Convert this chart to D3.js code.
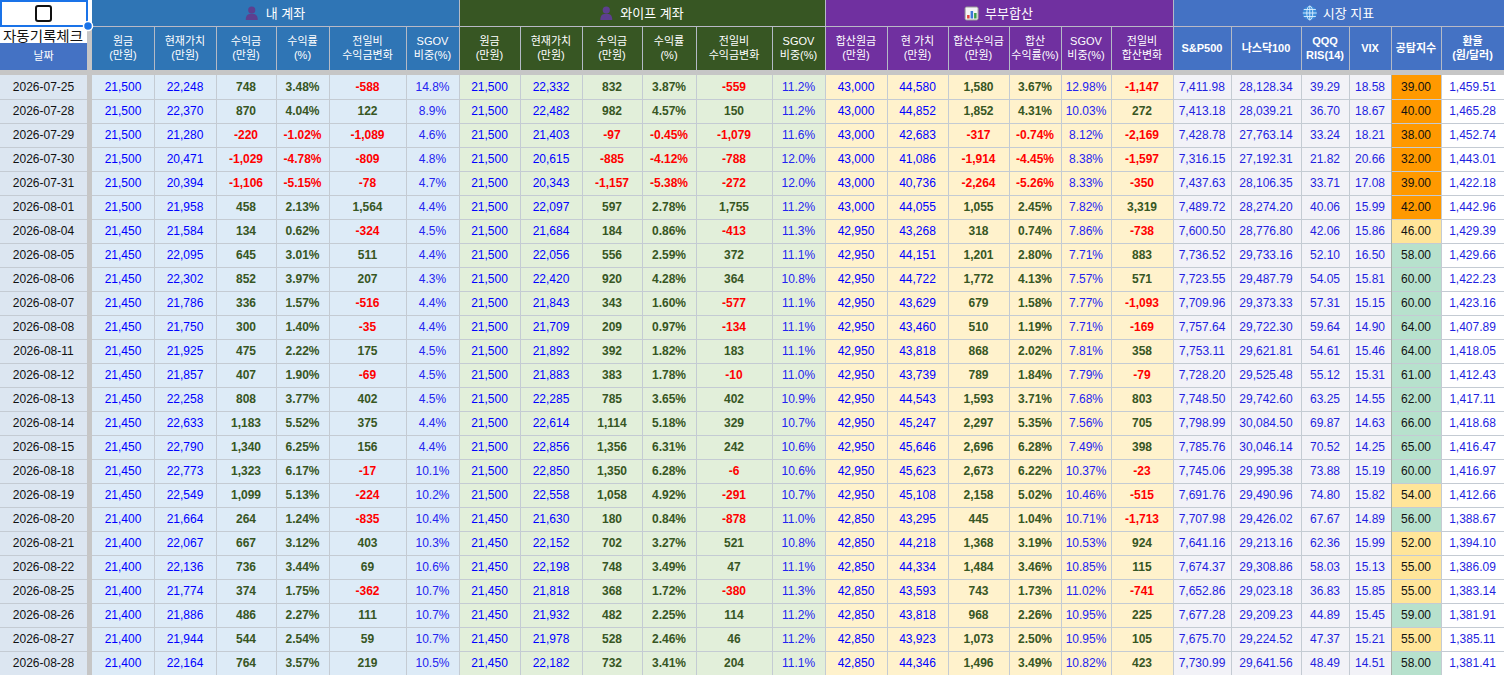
<!DOCTYPE html>
<html lang="ko">
<head>
<meta charset="utf-8">
<title>계좌 기록</title>
<script src="https://cdn.jsdelivr.net/npm/d3@7"></script>
<style>
  body { margin: 0; background: #fff; }
  svg { display: block; font-family: "Liberation Sans", Arial, "Noto Sans CJK KR", sans-serif; }
</style>
</head>
<body>
<svg id="sheet" width="1504" height="675"></svg>
<script>
// ---- data ----
const dates = ['2026-07-25','2026-07-28','2026-07-29','2026-07-30','2026-07-31','2026-08-01','2026-08-04',
  '2026-08-05','2026-08-06','2026-08-07','2026-08-08','2026-08-11','2026-08-12','2026-08-13','2026-08-14',
  '2026-08-15','2026-08-18','2026-08-19','2026-08-20','2026-08-21','2026-08-22','2026-08-25','2026-08-26',
  '2026-08-27','2026-08-28'];

// 내 계좌
const myPrincipal = [21500,21500,21500,21500,21500,21500,21450,21450,21450,21450,21450,21450,21450,21450,21450,21450,21450,21450,21400,21400,21400,21400,21400,21400,21400];
const myValue = [22248,22370,21280,20471,20394,21958,21584,22095,22302,21786,21750,21925,21857,22258,22633,22790,22773,22549,21664,22067,22136,21774,21886,21944,22164];
const myProfit = [748,870,-220,-1029,-1106,458,134,645,852,336,300,475,407,808,1183,1340,1323,1099,264,667,736,374,486,544,764];
const myRate = [3.48,4.04,-1.02,-4.78,-5.15,2.13,0.62,3.01,3.97,1.57,1.40,2.22,1.90,3.77,5.52,6.25,6.17,5.13,1.24,3.12,3.44,1.75,2.27,2.54,3.57];
const myChange = [-588,122,-1089,-809,-78,1564,-324,511,207,-516,-35,175,-69,402,375,156,-17,-224,-835,403,69,-362,111,59,219];
const mySgov = [14.8,8.9,4.6,4.8,4.7,4.4,4.5,4.4,4.3,4.4,4.4,4.5,4.5,4.5,4.4,4.4,10.1,10.2,10.4,10.3,10.6,10.7,10.7,10.7,10.5];

// 와이프 계좌
const wifePrincipal = [21500,21500,21500,21500,21500,21500,21500,21500,21500,21500,21500,21500,21500,21500,21500,21500,21500,21500,21450,21450,21450,21450,21450,21450,21450];
const wifeValue = [22332,22482,21403,20615,20343,22097,21684,22056,22420,21843,21709,21892,21883,22285,22614,22856,22850,22558,21630,22152,22198,21818,21932,21978,22182];
const wifeProfit = [832,982,-97,-885,-1157,597,184,556,920,343,209,392,383,785,1114,1356,1350,1058,180,702,748,368,482,528,732];
const wifeRate = [3.87,4.57,-0.45,-4.12,-5.38,2.78,0.86,2.59,4.28,1.60,0.97,1.82,1.78,3.65,5.18,6.31,6.28,4.92,0.84,3.27,3.49,1.72,2.25,2.46,3.41];
const wifeChange = [-559,150,-1079,-788,-272,1755,-413,372,364,-577,-134,183,-10,402,329,242,-6,-291,-878,521,47,-380,114,46,204];
const wifeSgov = [11.2,11.2,11.6,12.0,12.0,11.2,11.3,11.1,10.8,11.1,11.1,11.1,11.0,10.9,10.7,10.6,10.6,10.7,11.0,10.8,11.1,11.3,11.2,11.2,11.1];

// 부부합산
const sumPrincipal = [43000,43000,43000,43000,43000,43000,42950,42950,42950,42950,42950,42950,42950,42950,42950,42950,42950,42950,42850,42850,42850,42850,42850,42850,42850];
const sumValue = [44580,44852,42683,41086,40736,44055,43268,44151,44722,43629,43460,43818,43739,44543,45247,45646,45623,45108,43295,44218,44334,43593,43818,43923,44346];
const sumProfit = [1580,1852,-317,-1914,-2264,1055,318,1201,1772,679,510,868,789,1593,2297,2696,2673,2158,445,1368,1484,743,968,1073,1496];
const sumRate = [3.67,4.31,-0.74,-4.45,-5.26,2.45,0.74,2.80,4.13,1.58,1.19,2.02,1.84,3.71,5.35,6.28,6.22,5.02,1.04,3.19,3.46,1.73,2.26,2.50,3.49];
const sumSgov = [12.98,10.03,8.12,8.38,8.33,7.82,7.86,7.71,7.57,7.77,7.71,7.81,7.79,7.68,7.56,7.49,10.37,10.46,10.71,10.53,10.85,11.02,10.95,10.95,10.82];
const sumChange = [-1147,272,-2169,-1597,-350,3319,-738,883,571,-1093,-169,358,-79,803,705,398,-23,-515,-1713,924,115,-741,225,105,423];

// 시장 지표
const sp500 = [7411.98,7413.18,7428.78,7316.15,7437.63,7489.72,7600.50,7736.52,7723.55,7709.96,7757.64,7753.11,7728.20,7748.50,7798.99,7785.76,7745.06,7691.76,7707.98,7641.16,7674.37,7652.86,7677.28,7675.70,7730.99];
const nasdaq100 = [28128.34,28039.21,27763.14,27192.31,28106.35,28274.20,28776.80,29733.16,29487.79,29373.33,29722.30,29621.81,29525.48,29742.60,30084.50,30046.14,29995.38,29490.96,29426.02,29213.16,29308.86,29023.18,29209.23,29224.52,29641.56];
const qqqRsi = [39.29,36.70,33.24,21.82,33.71,40.06,42.06,52.10,54.05,57.31,59.64,54.61,55.12,63.25,69.87,70.52,73.88,74.80,67.67,62.36,58.03,36.83,44.89,47.37,48.49];
const vix = [18.58,18.67,18.21,20.66,17.08,15.99,15.86,16.50,15.81,15.15,14.90,15.46,15.31,14.55,14.63,14.25,15.19,15.82,14.89,15.99,15.13,15.85,15.45,15.21,14.51];
const fearGreed = [39,40,38,32,39,42,46,58,60,60,64,64,61,62,66,65,60,54,56,52,55,55,59,55,58];
const fxRate = [1459.51,1465.28,1452.74,1443.01,1422.18,1442.96,1429.39,1429.66,1422.23,1423.16,1407.89,1418.05,1412.43,1417.11,1418.68,1416.47,1416.97,1412.66,1388.67,1394.10,1386.09,1383.14,1381.91,1385.11,1381.41];

// ---- layout ----
const W = 1504, H = 675;
const DATE_W = 87, GAP_W = 5;
const GROUP_H = 26, SUB_H = 44, STRIP_H = 5;
const BODY_TOP = GROUP_H + SUB_H + STRIP_H;

const GROUPS = {
  my:     { title: '내 계좌',   head: '#2f75b5', body: '#ddebf7', icon: 'person' },
  wife:   { title: '와이프 계좌', head: '#375623', body: '#e2efda', icon: 'person' },
  sum:    { title: '부부합산',   head: '#7030a0', body: '#fff2cc', icon: 'chart' },
  market: { title: '시장 지표',  head: '#4472c4', body: '#f2f2f7', icon: 'globe' }
};

const COLS = [
  { g: 'my', label: ['원금','(만원)'], w: 62, v: myPrincipal, kind: 'amt' },
  { g: 'my', label: ['현재가치','(만원)'], w: 62, v: myValue, kind: 'amt' },
  { g: 'my', label: ['수익금','(만원)'], w: 60, v: myProfit, kind: 'pl' },
  { g: 'my', label: ['수익률','(%)'], w: 53, v: myRate, kind: 'rate' },
  { g: 'my', label: ['전일비','수익금변화'], w: 77, v: myChange, kind: 'pl' },
  { g: 'my', label: ['SGOV','비중(%)'], w: 53, v: mySgov, kind: 'sgov1' },
  { g: 'wife', label: ['원금','(만원)'], w: 61, v: wifePrincipal, kind: 'amt' },
  { g: 'wife', label: ['현재가치','(만원)'], w: 62, v: wifeValue, kind: 'amt' },
  { g: 'wife', label: ['수익금','(만원)'], w: 60, v: wifeProfit, kind: 'pl' },
  { g: 'wife', label: ['수익률','(%)'], w: 54, v: wifeRate, kind: 'rate' },
  { g: 'wife', label: ['전일비','수익금변화'], w: 76, v: wifeChange, kind: 'pl' },
  { g: 'wife', label: ['SGOV','비중(%)'], w: 53, v: wifeSgov, kind: 'sgov1' },
  { g: 'sum', label: ['합산원금','(만원)'], w: 62, v: sumPrincipal, kind: 'amt' },
  { g: 'sum', label: ['현 가치','(만원)'], w: 61, v: sumValue, kind: 'amt' },
  { g: 'sum', label: ['합산수익금','(만원)'], w: 61, v: sumProfit, kind: 'pl' },
  { g: 'sum', label: ['합산','수익률(%)'], w: 52, v: sumRate, kind: 'rate' },
  { g: 'sum', label: ['SGOV','비중(%)'], w: 50, v: sumSgov, kind: 'sgov2' },
  { g: 'sum', label: ['전일비','합산변화'], w: 62, v: sumChange, kind: 'pl' },
  { g: 'market', label: ['S&P500'], w: 58, v: sp500, kind: 'idx' },
  { g: 'market', label: ['나스닥100'], w: 70, v: nasdaq100, kind: 'idx' },
  { g: 'market', label: ['QQQ','RIS(14)'], w: 48, v: qqqRsi, kind: 'idx' },
  { g: 'market', label: ['VIX'], w: 42, v: vix, kind: 'idx' },
  { g: 'market', label: ['공탐지수'], w: 50, v: fearGreed, kind: 'fear' },
  { g: 'market', label: ['환율','(원/달러)'], w: 63, v: fxRate, kind: 'fx' }
];

const X0 = DATE_W + GAP_W;
const edges = [X0, ...d3.cumsum(COLS, c => c.w).map(s => X0 + s)];
const colIdx = d3.range(COLS.length);
const xLeft = d3.scaleOrdinal().domain(colIdx).range(edges.slice(0, -1));
const y = d3.scaleBand().domain(dates).range([BODY_TOP, H]);

const loc = d3.formatLocale({ decimal: '.', thousands: ',', grouping: [3], currency: ['', ''], minus: '-' });
const fmtInt = loc.format(',d');
const fmt2 = loc.format(',.2f');
const fmt1 = loc.format('.1f');

const fearFill = v => v < 45 ? '#ff9900' : v <= 55 ? '#ffe599' : '#b7e1cd';

function cellStyle(kind, v) {
  switch (kind) {
    case 'amt':   return { text: fmtInt(v), color: '#0000ff', weight: 400 };
    case 'pl':    return { text: fmtInt(v), color: v < 0 ? '#ff0000' : '#375623', weight: 700 };
    case 'rate':  return { text: fmt2(v) + '%', color: v < 0 ? '#ff0000' : '#375623', weight: 700 };
    case 'sgov1': return { text: fmt1(v) + '%', color: '#2323f0', weight: 400 };
    case 'sgov2': return { text: fmt2(v) + '%', color: '#2323f0', weight: 400 };
    case 'idx':   return { text: fmt2(v), color: '#1f1fe0', weight: 400 };
    case 'fear':  return { text: fmt2(v), color: '#111', weight: 400 };
    case 'fx':    return { text: fmt2(v), color: '#1f1fe0', weight: 400 };
  }
}

const svg = d3.select('#sheet');
svg.append('rect').attr('width', W).attr('height', H).attr('fill', '#fff');

// ---- body cells ----
const body = svg.append('g').attr('id', 'body');

body.selectAll('rect.date')
  .data(dates)
  .join('rect')
  .attr('class', 'date')
  .attr('x', 0).attr('y', d => y(d))
  .attr('width', DATE_W).attr('height', y.bandwidth())
  .attr('fill', '#dce6f1');

body.selectAll('text.date')
  .data(dates)
  .join('text')
  .attr('class', 'date')
  .attr('x', DATE_W / 2).attr('y', d => y(d) + y.bandwidth() / 2)
  .attr('dy', '0.36em')
  .attr('text-anchor', 'middle')
  .attr('font-size', 12)
  .attr('fill', '#111')
  .text(d => d);

COLS.forEach((col, ci) => {
  const cells = dates.map((d, i) => ({ date: d, v: col.v[i] }));
  const gCol = body.append('g');
  gCol.selectAll('rect')
    .data(cells)
    .join('rect')
    .attr('x', xLeft(ci)).attr('y', d => y(d.date))
    .attr('width', col.w).attr('height', y.bandwidth())
    .attr('fill', d => col.kind === 'fear' ? fearFill(d.v) : col.kind === 'fx' ? '#ffffff' : GROUPS[col.g].body);
  gCol.selectAll('text')
    .data(cells)
    .join('text')
    .each(function (d) {
      const s = cellStyle(col.kind, d.v);
      d3.select(this)
        .attr('x', xLeft(ci) + col.w / 2)
        .attr('y', y(d.date) + y.bandwidth() / 2)
        .attr('dy', '0.36em')
        .attr('text-anchor', 'middle')
        .attr('font-size', 12)
        .attr('font-weight', s.weight)
        .attr('fill', s.color)
        .text(s.text);
    });
});

// grid lines
const grid = svg.append('g').attr('shape-rendering', 'crispEdges');
grid.selectAll('line.h')
  .data(dates.slice(1))
  .join('line')
  .attr('x1', 0).attr('x2', W)
  .attr('y1', d => y(d) + 0.5).attr('y2', d => y(d) + 0.5)
  .attr('stroke', '#c4cbd3');
grid.selectAll('line.v')
  .data(edges.slice(1, -1))
  .join('line')
  .attr('x1', d => Math.round(d) + 0.5).attr('x2', d => Math.round(d) + 0.5)
  .attr('y1', BODY_TOP).attr('y2', H)
  .attr('stroke', '#c4cbd3');
// fear column darker edges
grid.append('line')
  .attr('x1', Math.round(edges[22]) + 0.5).attr('x2', Math.round(edges[22]) + 0.5)
  .attr('y1', BODY_TOP).attr('y2', H).attr('stroke', '#a8b0a8');

// gray strips
svg.append('rect').attr('x', 0).attr('y', GROUP_H + SUB_H).attr('width', W).attr('height', STRIP_H).attr('fill', '#c6c6c6');
svg.append('rect').attr('x', DATE_W).attr('y', GROUP_H).attr('width', GAP_W).attr('height', H - GROUP_H).attr('fill', '#c6c6c6');

// ---- headers ----
const head = svg.append('g').attr('id', 'head');
const groupKeys = Object.keys(GROUPS);
const groupSpan = groupKeys.map(k => {
  const idx = colIdx.filter(i => COLS[i].g === k);
  return { key: k, x0: edges[idx[0]], x1: edges[idx[idx.length - 1] + 1] };
});

head.selectAll('rect.grp')
  .data(groupSpan)
  .join('rect')
  .attr('class', 'grp')
  .attr('x', d => d.x0).attr('y', 0)
  .attr('width', d => d.x1 - d.x0).attr('height', GROUP_H)
  .attr('fill', d => GROUPS[d.key].head);

head.selectAll('rect.sub')
  .data(colIdx)
  .join('rect')
  .attr('class', 'sub')
  .attr('x', i => xLeft(i)).attr('y', GROUP_H)
  .attr('width', i => COLS[i].w).attr('height', SUB_H)
  .attr('fill', i => GROUPS[COLS[i].g].head);

const hl = head.append('g').attr('shape-rendering', 'crispEdges');
hl.append('line').attr('x1', X0).attr('x2', W).attr('y1', GROUP_H + 0.5).attr('y2', GROUP_H + 0.5).attr('stroke', '#b9b9c6');
hl.selectAll('line.sep')
  .data(edges.slice(1, -1))
  .join('line')
  .attr('x1', d => Math.round(d) + 0.5).attr('x2', d => Math.round(d) + 0.5)
  .attr('y1', GROUP_H).attr('y2', GROUP_H + SUB_H)
  .attr('stroke', '#b4bac6');
hl.selectAll('line.gsep')
  .data(groupSpan.slice(1))
  .join('line')
  .attr('x1', d => Math.round(d.x0) + 0.5).attr('x2', d => Math.round(d.x0) + 0.5)
  .attr('y1', 0).attr('y2', GROUP_H)
  .attr('stroke', '#b4bac6');

head.selectAll('g.sublabel')
  .data(colIdx)
  .join('g')
  .attr('class', 'sublabel')
  .each(function (i) {
    const col = COLS[i];
    const cx = xLeft(i) + col.w / 2;
    const lines = col.label;
    const isMarket = col.g === 'market';
    const lh = 14;
    const cy = GROUP_H + SUB_H / 2;
    d3.select(this).selectAll('text')
      .data(lines)
      .join('text')
      .attr('x', cx)
      .attr('y', (d, k) => cy + (k - (lines.length - 1) / 2) * lh)
      .attr('dy', '0.36em')
      .attr('text-anchor', 'middle')
      .attr('font-size', 11)
      .attr('font-weight', isMarket ? 700 : 400)
      .attr('fill', '#fff')
      .text(d => d);
  });

// group titles with small icons
function drawIcon(g, type) {
  if (type === 'person') {
    g.append('circle').attr('cx', 6).attr('cy', -3).attr('r', 3.6).attr('fill', '#5d3f8f');
    g.append('path').attr('d', 'M0,7 C0,1.5 3,0.8 6,0.8 C9,0.8 12,1.5 12,7 Z').attr('fill', '#5d3f8f');
  } else if (type === 'chart') {
    g.append('rect').attr('x', 0).attr('y', -6).attr('width', 13).attr('height', 13).attr('rx', 1.5)
      .attr('fill', '#f4f4f4').attr('stroke', '#9a9a9a');
    [[2, 2, '#e0403a'], [5.5, -2, '#3a78d8'], [9, 0, '#3aa04a']].forEach(([bx, by, c]) => {
      g.append('rect').attr('x', bx).attr('y', by).attr('width', 2.5).attr('height', 5.5 - by).attr('fill', c);
    });
  } else {
    g.append('circle').attr('cx', 7).attr('cy', 0).attr('r', 7).attr('fill', '#3c8fdc');
    g.append('ellipse').attr('cx', 7).attr('cy', 0).attr('rx', 3).attr('ry', 7).attr('fill', 'none').attr('stroke', '#dcefff').attr('stroke-width', 0.9);
    g.append('line').attr('x1', 7).attr('x2', 7).attr('y1', -7).attr('y2', 7).attr('stroke', '#dcefff').attr('stroke-width', 0.9);
    [-3.5, 0, 3.5].forEach(yy => {
      const hw = Math.sqrt(49 - yy * yy);
      g.append('line').attr('x1', 7 - hw).attr('x2', 7 + hw).attr('y1', yy).attr('y2', yy).attr('stroke', '#dcefff').attr('stroke-width', 0.9);
    });
  }
}

groupSpan.forEach(s => {
  const grp = GROUPS[s.key];
  const g = head.append('g');
  const t = g.append('text')
    .attr('y', GROUP_H / 2).attr('dy', '0.36em')
    .attr('font-size', 13)
    .attr('fill', '#fff')
    .text(grp.title);
  const tw = t.node().getComputedTextLength();
  const iw = 14, gap = 6;
  const start = (s.x0 + s.x1) / 2 - (iw + gap + tw) / 2;
  t.attr('x', start + iw + gap);
  drawIcon(g.append('g').attr('transform', `translate(${start},${GROUP_H / 2})`), grp.icon);
});

// top-left corner: checkbox, caption, date header
const corner = svg.append('g');
corner.append('rect').attr('x', 0).attr('y', GROUP_H).attr('width', DATE_W).attr('height', 17).attr('fill', '#fff');
corner.append('text')
  .attr('x', 3).attr('y', GROUP_H + 10).attr('dy', '0.36em')
  .attr('font-size', 14).attr('fill', '#111')
  .attr('textLength', 80).attr('lengthAdjust', 'spacingAndGlyphs')
  .text('자동기록체크');
corner.append('rect').attr('x', 0).attr('y', GROUP_H + 17).attr('width', DATE_W).attr('height', SUB_H - 17).attr('fill', '#4472c4');
corner.append('text')
  .attr('x', DATE_W / 2).attr('y', GROUP_H + 17 + (SUB_H - 17) / 2).attr('dy', '0.36em')
  .attr('text-anchor', 'middle').attr('font-size', 11).attr('fill', '#fff')
  .text('날짜');
corner.append('rect').attr('x', 1).attr('y', 1).attr('width', DATE_W - 1).attr('height', GROUP_H - 1)
  .attr('fill', '#fff').attr('stroke', '#1a73e8').attr('stroke-width', 2);
corner.append('rect').attr('x', 36).attr('y', 6).attr('width', 15).attr('height', 15).attr('rx', 2)
  .attr('fill', '#fff').attr('stroke', '#111').attr('stroke-width', 2);
corner.append('circle').attr('cx', DATE_W + 1).attr('cy', GROUP_H).attr('r', 4.5)
  .attr('fill', '#1a73e8').attr('stroke', '#fff').attr('stroke-width', 1.5);
</script>
</body>
</html>
